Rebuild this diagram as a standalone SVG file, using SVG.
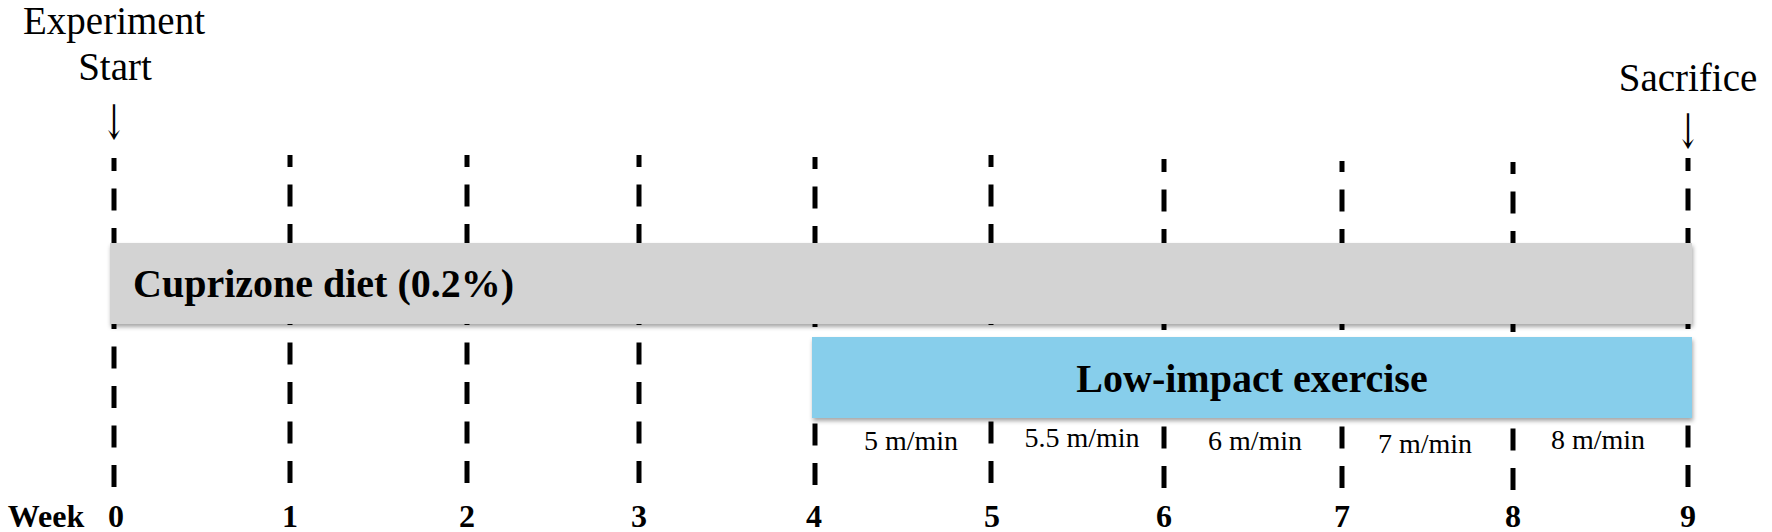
<svg xmlns="http://www.w3.org/2000/svg" width="1772" height="532" viewBox="0 0 1772 532">
<defs>
<style>
.serif{font-family:"Liberation Serif","Times New Roman",serif;fill:#000}
.lbl{font-size:39px;text-anchor:middle}
.arrow{font-family:"DejaVu Serif",serif;font-size:40px;text-anchor:middle;fill:#000}
.bar-title{font-size:40px;font-weight:bold}
.speed{font-size:28px;text-anchor:middle}
.week{font-size:32px;font-weight:bold;text-anchor:middle}
.tick{stroke:#000;stroke-width:5;stroke-dasharray:22 17.5;fill:none}
</style>
<filter id="shadow" x="-2%" y="-20%" width="104%" height="150%">
<feDropShadow dx="1" dy="3" stdDeviation="2" flood-color="#000" flood-opacity="0.35"/>
</filter>
</defs>
<rect width="1772" height="532" fill="#fff"/>

<g id="connectors">
<line class="tick" x1="114" y1="487" x2="114" y2="158"/>
<line class="tick" x1="290" y1="483" x2="290" y2="155"/>
<line class="tick" x1="467" y1="483" x2="467" y2="155"/>
<line class="tick" x1="639" y1="483" x2="639" y2="155"/>
<line class="tick" x1="815" y1="485" x2="815" y2="157"/>
<line class="tick" x1="991" y1="483" x2="991" y2="155"/>
<line class="tick" x1="1164" y1="488" x2="1164" y2="159"/>
<line class="tick" x1="1342" y1="488" x2="1342" y2="161"/>
<line class="tick" x1="1513" y1="490" x2="1513" y2="162"/>
<line class="tick" x1="1688" y1="487" x2="1688" y2="158"/>
</g>

<g id="start-label" class="serif">
<text class="lbl" x="114" y="34">Experiment</text>
<text class="lbl" x="115" y="80">Start</text>
<text class="arrow" x="114" y="139" transform="translate(114 139) scale(0.7 1.2) translate(-114 -139)">↓</text>
</g>

<g id="sacrifice-label" class="serif">
<text class="lbl" x="1688" y="91">Sacrifice</text>
<text class="arrow" x="1688" y="148" transform="translate(1688 148) scale(0.7 1.2) translate(-1688 -148)">↓</text>
</g>

<g id="cuprizone-bar">
<rect x="110" y="243" width="1582" height="81" fill="#d3d3d3" filter="url(#shadow)"/>
<text class="serif bar-title" x="133" y="297">Cuprizone diet (0.2%)</text>
</g>

<g id="exercise-bar">
<rect x="812" y="337" width="880" height="81" fill="#87ceeb" filter="url(#shadow)"/>
<text class="serif bar-title" x="1252" y="392" text-anchor="middle">Low-impact exercise</text>
</g>

<g id="speeds" class="serif">
<text class="speed" x="911" y="450">5 m/min</text>
<text class="speed" x="1082" y="447">5.5 m/min</text>
<text class="speed" x="1255" y="450">6 m/min</text>
<text class="speed" x="1425" y="453">7 m/min</text>
<text class="speed" x="1598" y="449">8 m/min</text>
</g>

<g id="weeks" class="serif">
<text class="week" x="46" y="527">Week</text>
<text class="week" x="116" y="527">0</text>
<text class="week" x="290" y="527">1</text>
<text class="week" x="467" y="527">2</text>
<text class="week" x="639" y="527">3</text>
<text class="week" x="814" y="527">4</text>
<text class="week" x="992" y="527">5</text>
<text class="week" x="1164" y="527">6</text>
<text class="week" x="1342" y="527">7</text>
<text class="week" x="1513" y="527">8</text>
<text class="week" x="1688" y="527">9</text>
</g>
</svg>
